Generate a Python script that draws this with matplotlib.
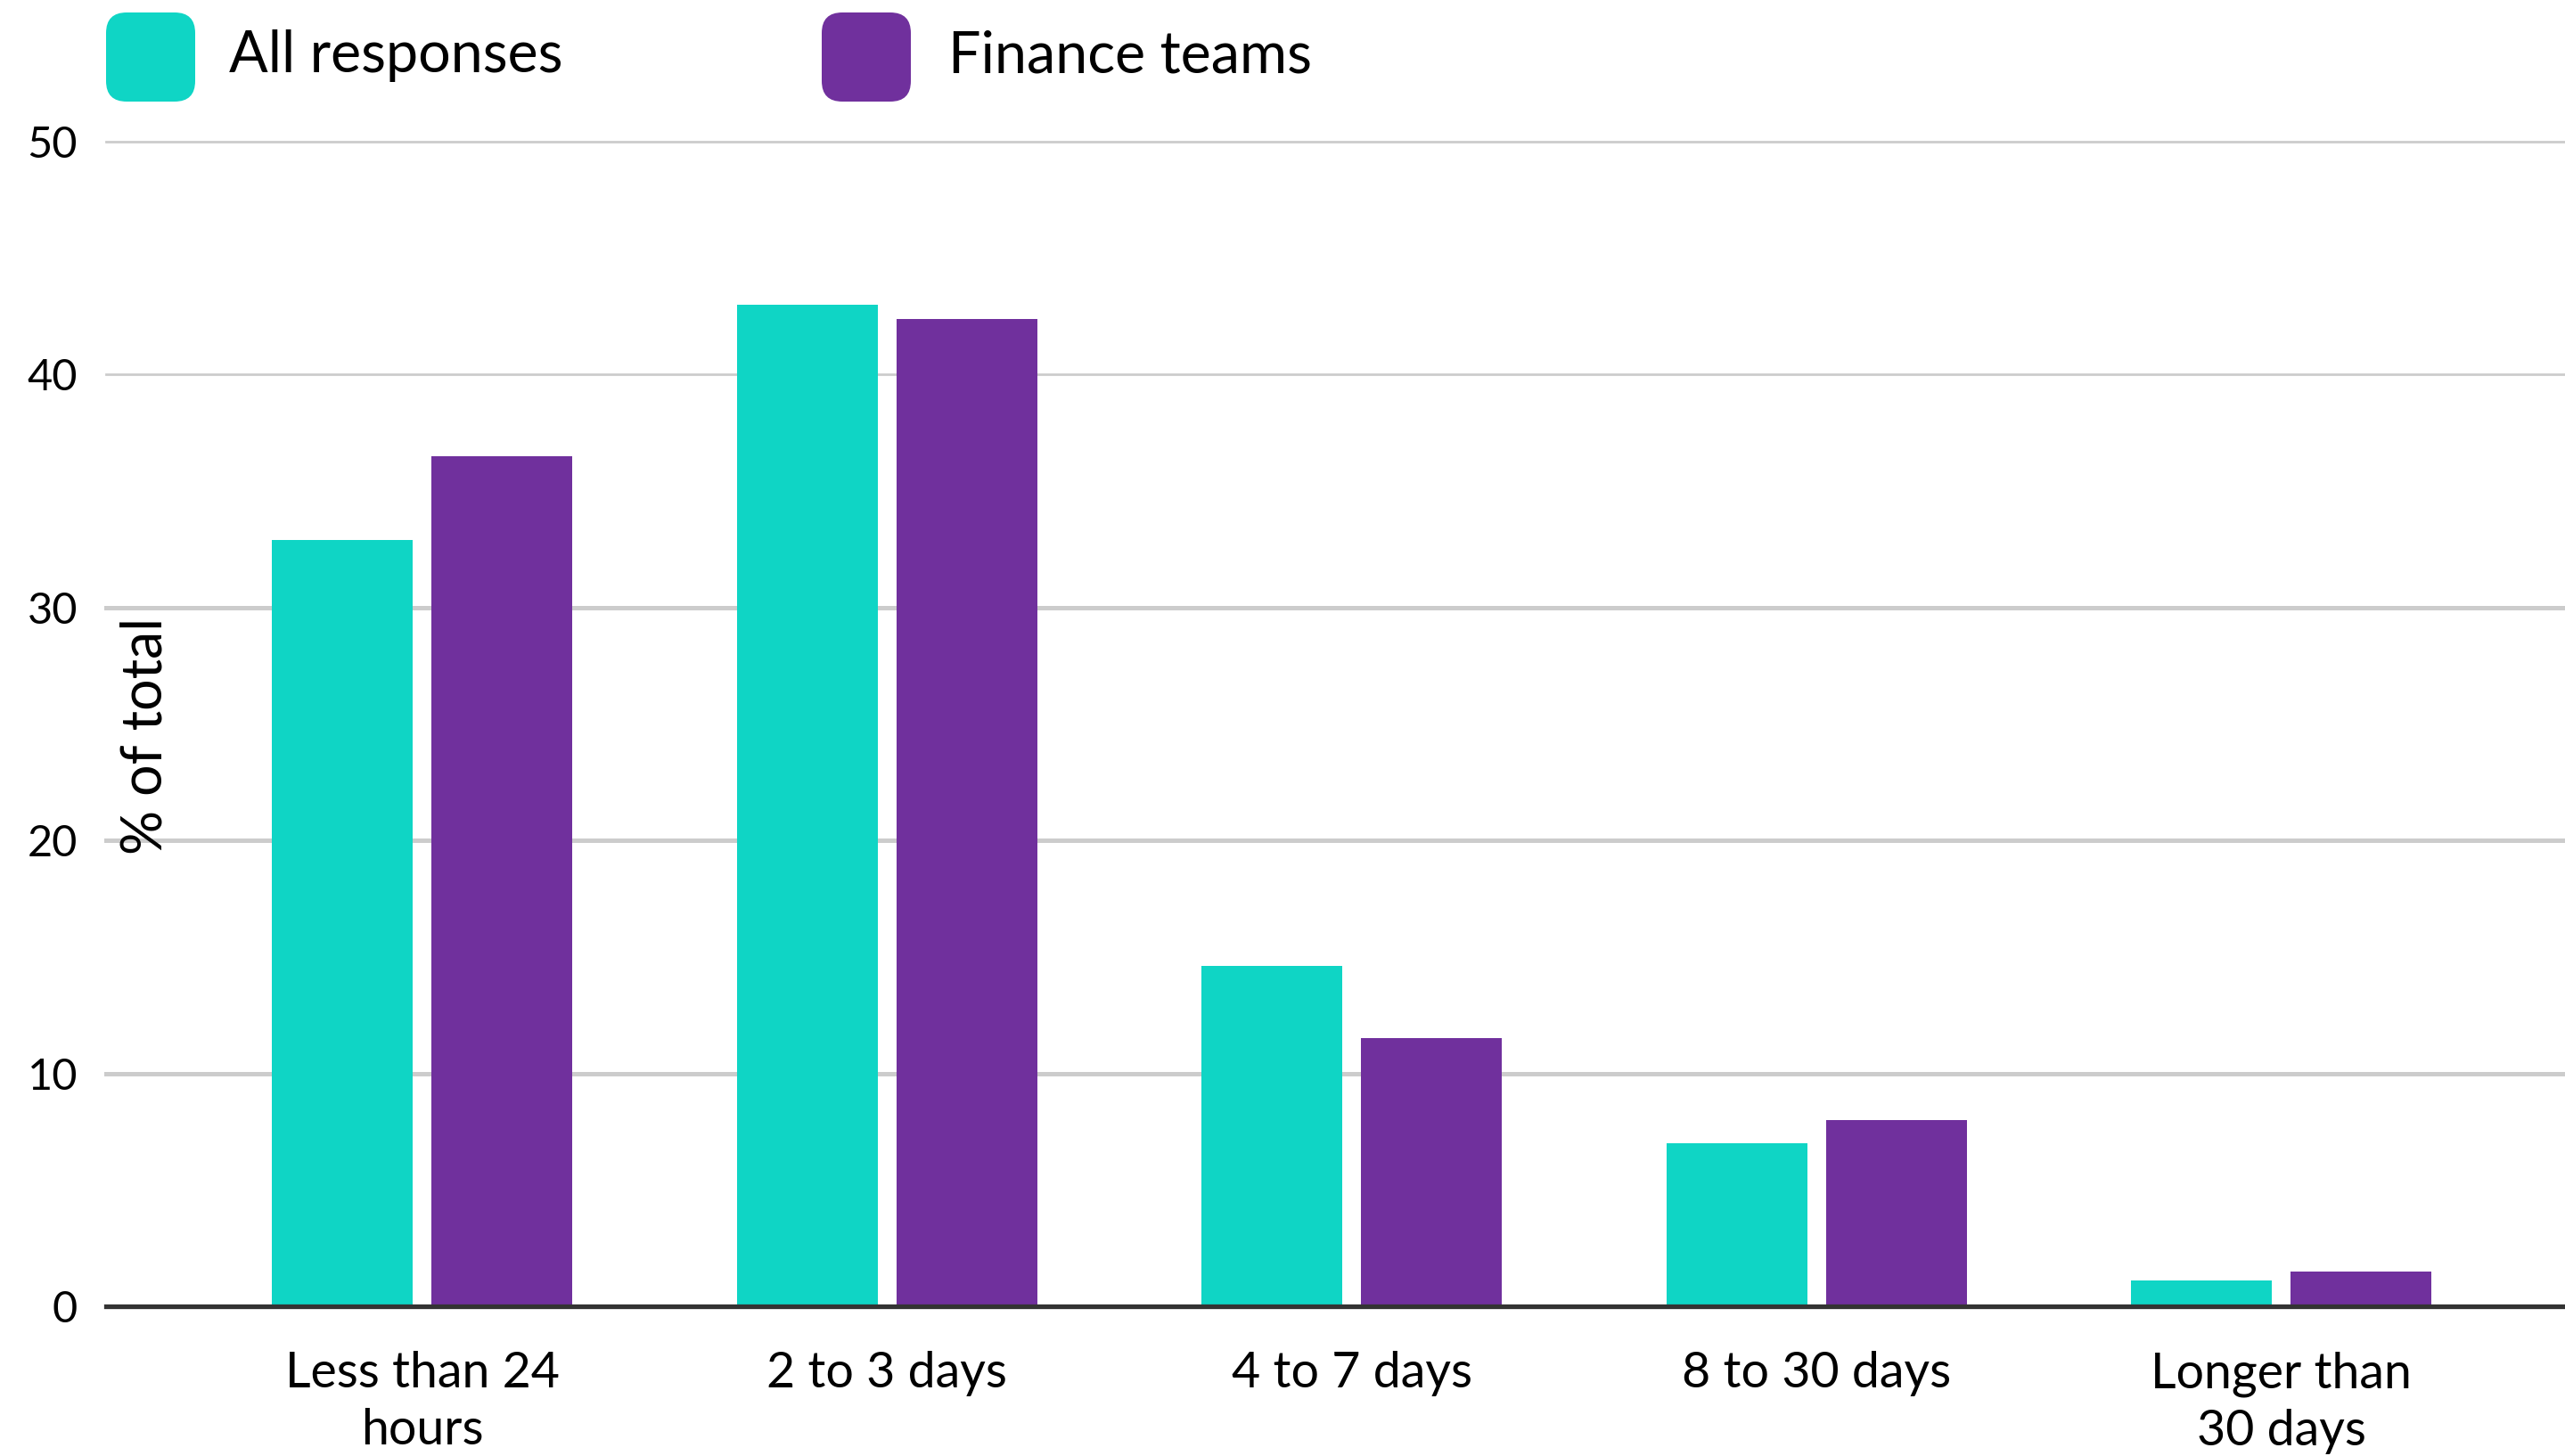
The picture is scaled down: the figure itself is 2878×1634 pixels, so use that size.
import matplotlib
matplotlib.use("Agg")
import matplotlib.pyplot as plt
from matplotlib.patches import FancyBboxPatch
import numpy as np

plt.rcParams['font.family'] = ['Lato', 'DejaVu Sans']

categories = ["Less than 24\nhours", "2 to 3 days", "4 to 7 days", "8 to 30 days", "Longer than\n30 days"]
series_names = ["All responses", "Finance teams"]
all_responses = [32.9, 43.0, 14.6, 7.0, 1.1]
finance_teams = [36.5, 42.4, 11.5, 8.0, 1.5]
y_ticks = [0, 10, 20, 30, 40, 50]
y_label = "% of total"

teal = "#0FD5C5"
purple = "#70309D"
colors = [teal, purple]

W, H = 2878, 1634
dpi = 100
fig = plt.figure(figsize=(W / dpi, H / dpi), dpi=dpi)

ax_left = 119 / W
ax_bottom = (H - 1466) / H
ax_top = (H - 159) / H
ax = fig.add_axes([ax_left, ax_bottom, 1.0 - ax_left, ax_top - ax_bottom])

x = np.arange(len(categories))
bw = 0.303
gap = 0.040
off = (bw + gap) / 2
ax.bar(x - off, all_responses, width=bw, color=teal, zorder=3)
ax.bar(x + off, finance_teams, width=bw, color=purple, zorder=3)

ax.set_xlim(-0.68, len(categories) - 1 + 0.61)
ax.set_ylim(0, 50)

# gridlines
for t in y_ticks[1:]:
    lw = 2.0 if t >= 40 else 3.6
    ax.axhline(t, color="#cccccc", linewidth=lw, zorder=1, clip_on=False)
ax.axhline(0, color="#333333", linewidth=3.8, zorder=4, clip_on=False)

for s in ax.spines.values():
    s.set_visible(False)

ax.set_yticks(y_ticks)
ax.set_yticklabels([str(t) for t in y_ticks])
ax.tick_params(axis='y', length=0, pad=23, labelsize=35)
ax.set_xticks(x)
ax.set_xticklabels(categories, fontsize=40, linespacing=1.32)
ax.tick_params(axis='x', length=0, pad=36)

ax.text(44 / (W - 119), 0.49, y_label, transform=ax.transAxes, rotation=90,
        ha='center', va='center', fontsize=45)

# legend
sq = 100
legend_x = [119, 922]
text_x = [257, 1064]
for i, name in enumerate(series_names):
    x0 = legend_x[i] / W
    y0 = (H - 114) / H
    p = FancyBboxPatch((x0, y0), sq / W, sq / H,
                       boxstyle="round,pad=0,rounding_size=0.008",
                       mutation_aspect=W / H,
                       transform=fig.transFigure, facecolor=colors[i],
                       edgecolor='none')
    fig.patches.append(p)
    fig.text(text_x[i] / W, (H - 81) / H, name, fontsize=46.5,
             ha='left', va='baseline')

fig.savefig("out.png", dpi=dpi, facecolor="white")
